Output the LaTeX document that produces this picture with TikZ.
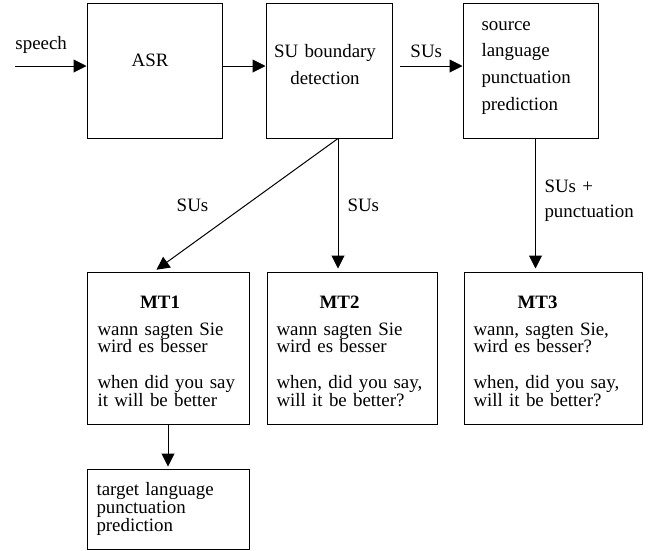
\documentclass[tikz,border=0pt]{standalone}
\usepackage{fontspec}
\setmainfont{Liberation Serif}
\usetikzlibrary{arrows.meta,positioning}

\begin{document}
\begin{tikzpicture}[x=1pt,y=-1pt,>={Triangle[length=13pt,width=13pt]},line width=1pt,
	font=\fontsize{18.9}{26.7}\selectfont]
	\tikzstyle{block} = [draw=black,line width=1pt,inner sep=0pt,rectangle,minimum height=134.5pt]
	\tikzstyle{mtblock} = [draw=black,line width=1pt,inner sep=0pt,rectangle,minimum height=152pt]
	\tikzstyle{lbl} = [inner sep=0pt,anchor=base west]
	\tikzstyle{body} = [inner sep=0pt,anchor=base west,text width=165pt,align=left,
		font=\fontsize{18.9}{17.8}\selectfont]
	\useasboundingbox (0,0) rectangle (651,550);
	% top row
	\node[block,minimum width=135pt] (asr) at (154.5,70.75) {};
	\node[block,minimum width=126pt] (sub) at (329,70.75) {};
	\node[block,minimum width=135pt] (src) at (530.5,70.75) {};
	\node[lbl,anchor=base] (asrlbl) at (150,66) {ASR};
	\node[lbl,anchor=base,text width=115pt,align=center] (sublbl) at (325,57.3) {SU boundary\\detection};
	\node[lbl,text width=115pt,align=left] (srclbl) at (481,30) {source\\language\\punctuation\\prediction};
	% translation
	\node[mtblock,minimum width=162pt] (mt1) at (168,348) {};
	\node[mtblock,minimum width=170pt] (mt2) at (352,348) {};
	\node[mtblock,minimum width=178pt] (mt3) at (553,348) {};
	\node[lbl,anchor=base] (mt1title) at (160,308) {\textbf{MT1}};
	\node[lbl,anchor=base] (mt2title) at (339.5,308) {\textbf{MT2}};
	\node[lbl,anchor=base] (mt3title) at (537.5,308) {\textbf{MT3}};
	\node[body] (mt1text) at (97,335) {wann sagten Sie\\wird es besser\\[17.8pt]when did you say\\it will be better};
	\node[body] (mt2text) at (276,335) {wann sagten Sie\\wird es besser\\[17.8pt]when, did you say,\\will it be better?};
	\node[body] (mt3text) at (473,335) {wann, sagten Sie,\\wird es besser?\\[17.8pt]when, did you say,\\will it be better?};
	% target side
	\node[draw=black,inner sep=0pt,minimum width=162pt,minimum height=80pt] (tgt) at (168,509) {};
	\node[body,font=\fontsize{18.9}{18}\selectfont] (tgtlbl) at (96,495) {target language\\punctuation\\prediction};
	% connections
	\coordinate (in) at (15,66);
	\coordinate (suout) at (400,66);
	\coordinate (split) at ([xshift=9pt]sub.south);
	\node[lbl] (speechlbl) at (15,49.5) {speech};
	\draw[->] (in) -- (in -| asr.west);
	\draw[->] (asr.east |- in) -- (sub.west |- in);
	\draw[->] (suout) -- node[lbl,anchor=base,pos=.42,yshift=9pt]{SUs} (suout -| src.west);
	\draw[->,shorten >=3pt] (split) -- ([xshift=-14pt]mt1.north);
	\draw[->,shorten >=3pt] (split) -- (split |- mt2.north);
	\draw[->,shorten >=3pt] ([xshift=5pt]src.south) -- ([xshift=5pt]src.south |- mt3.north);
	\draw[->,shorten >=2pt] (mt1.south) -- (tgt.north);
	\node[lbl,anchor=base] (sulbl1) at (192.5,211) {SUs};
	\node[lbl] (sulbl2) at (347,211) {SUs};
	\node[lbl,text width=100pt,align=left,font=\fontsize{18.9}{25}\selectfont] (sulbl3) at (544,192) {SUs +\\punctuation};
\end{tikzpicture}
\end{document}
